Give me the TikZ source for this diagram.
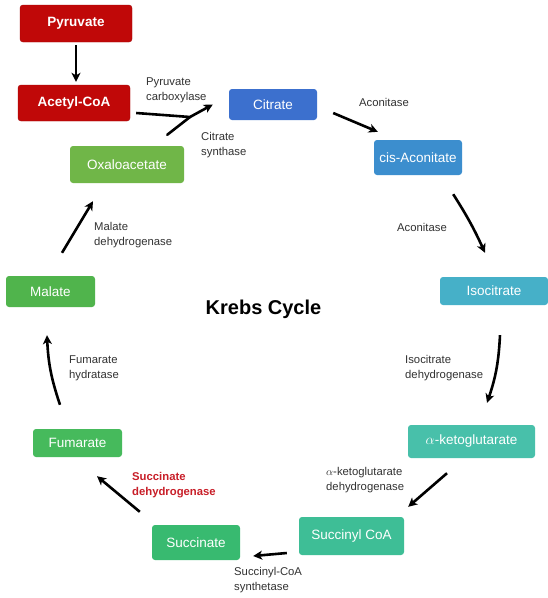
\documentclass[tikz,border=0pt]{standalone}
\usepackage{fontspec}
\setmainfont{Liberation Sans}
\usetikzlibrary{arrows.meta}
\definecolor{cred}{RGB}{192,8,8}
\definecolor{ccit}{RGB}{60,112,206}
\definecolor{ccis}{RGB}{60,142,206}
\definecolor{ciso}{RGB}{70,176,200}
\definecolor{cakg}{RGB}{72,192,170}
\definecolor{cscoa}{RGB}{62,190,150}
\definecolor{csuc}{RGB}{56,186,112}
\definecolor{cfum}{RGB}{70,186,92}
\definecolor{cmal}{RGB}{80,180,76}
\definecolor{coxa}{RGB}{112,182,72}
\definecolor{clbl}{RGB}{50,50,50}
\definecolor{csdh}{RGB}{200,30,40}
\begin{document}
\begin{tikzpicture}[x=1pt,y=-1pt,
  box/.style={rounded corners=3pt, inner sep=0pt, text=white,
    font=\fontsize{13.5}{15}\selectfont},
  lbl/.style={anchor=west, align=left, text=clbl, inner sep=0pt,
    font=\fontsize{11.3}{15}\selectfont},
  arr/.style={line width=2.6pt, line join=round, -{Stealth[length=9pt,width=9pt,inset=2.5pt]}},
  ln/.style={line width=2.6pt, line cap=round}]
\useasboundingbox (0,0) rectangle (548,598);
\fill[white] (0,0) rectangle (548,598);

% boxes
\node[box, fill=cred, draw=cred!85!black, minimum width=112pt, minimum height=37pt,
  font=\fontsize{13.5}{15}\selectfont\bfseries] (pyr) at (76,23.5) {Pyruvate};
\node[box, fill=cred, draw=cred!85!black, minimum width=112pt, minimum height=36pt,
  font=\fontsize{13.5}{15}\selectfont\bfseries] (acetyl) at (74,103) {Acetyl-CoA};
\node[box, fill=ccit, minimum width=88pt, minimum height=31pt] (citrate) at (273,104.5) {Citrate};
\node[box, fill=ccis, minimum width=88pt, minimum height=35pt] (cis) at (418,157.5) {cis-Aconitate};
\node[box, fill=ciso, minimum width=108pt, minimum height=28pt] (iso) at (494,291) {Isocitrate};
\node[box, fill=cakg, minimum width=127pt, minimum height=33pt] (akg) at (471.5,441.5) {$\alpha$-ketoglutarate};
\node[box, fill=cscoa, minimum width=105pt, minimum height=38pt] (scoa) at (351.5,536) {Succinyl CoA};
\node[box, fill=csuc, minimum width=88pt, minimum height=35pt] (suc) at (196,542.5) {Succinate};
\node[box, fill=cfum, minimum width=89pt, minimum height=28pt] (fum) at (77.5,443) {Fumarate};
\node[box, fill=cmal, minimum width=89pt, minimum height=31pt] (mal) at (50.5,291.5) {Malate};
\node[box, fill=coxa, minimum width=114pt, minimum height=37pt] (oxa) at (127,164.5) {Oxaloacetate};

% title
\node[font=\fontsize{20}{24}\selectfont\bfseries, inner sep=0pt] (title) at (263.5,309) {Krebs Cycle};

% labels
\node[lbl] (l1) at (146,90) {Pyruvate\\carboxylase};
\node[lbl] (l2) at (201,145) {Citrate\\synthase};
\node[lbl] (l3) at (359,102) {Aconitase};
\node[lbl] (l4) at (397,227) {Aconitase};
\node[lbl] (l5) at (405,368) {Isocitrate\\dehydrogenase};
\node[lbl] (l6) at (326,480) {$\alpha$-ketoglutarate\\dehydrogenase};
\node[lbl] (l7) at (234,580) {Succinyl-CoA\\synthetase};
\node[lbl, text=csdh, font=\fontsize{11.3}{15}\selectfont\bfseries] (l8) at (132,485) {Succinate\\dehydrogenase};
\node[lbl] (l9) at (69,368) {Fumarate\\hydratase};
\node[lbl] (l10) at (94,235) {Malate\\dehydrogenase};

% connectors
\draw[arr] ([shift={(0,3)}]pyr.south) -- ([shift={(2,-3)}]acetyl.north);
\coordinate (join) at (190,117);
\draw[ln] ([shift={(-17,-11)}]oxa.north east) -- (join);
\draw[arr] ([shift={(6,10)}]acetyl.east) -- (join) -- ([shift={(-16,0)}]citrate.west);
\draw[arr] ([shift={(16,8.5)}]citrate.east) -- ([shift={(4,-8)}]cis.north west);
\draw[arr] ([shift={(-9,19)}]cis.south east) to[bend left=4] ([shift={(-9,-24)}]iso.north);
\draw[arr] ([shift={(6,30)}]iso.south) to[bend left=8] ([shift={(15.5,-22)}]akg.north);
\draw[arr] ([shift={(-24.5,15)}]akg.south) -- ([shift={(4,-10)}]scoa.north east);
\draw[arr] ([shift={(-12,17)}]scoa.west) -- ([shift={(13,13.5)}]suc.east);
\draw[arr] ([shift={(-12,-13)}]suc.north west) -- ([shift={(19.5,19)}]fum.south);
\draw[arr] ([shift={(-17.5,-24)}]fum.north) to[bend left=8] ([shift={(-3.5,28)}]mal.south);
\draw[arr] ([shift={(11.5,-23)}]mal.north) -- ([shift={(-34,18)}]oxa.south);
\end{tikzpicture}
\end{document}
